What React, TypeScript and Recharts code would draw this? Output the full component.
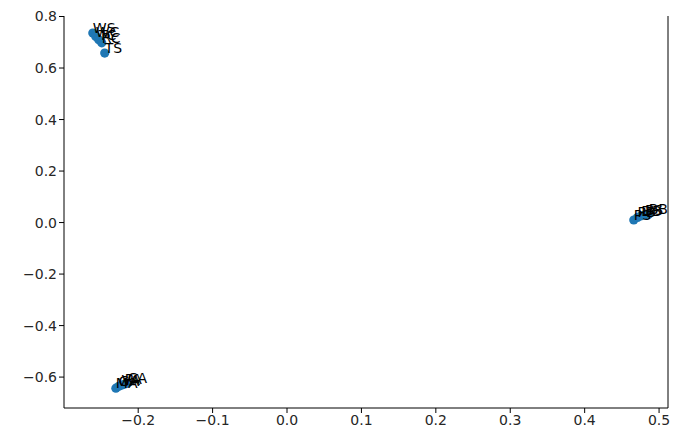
import { ScatterChart, Scatter, XAxis, YAxis } from "recharts";

// point labels and 2-D coordinates
const labels = [
  "WS", "WC", "TC", "RC", "TS",
  "MA", "GA", "VA", "PA", "CA",
  "PS", "PB", "DB", "BS", "BB",
];
const xs = [
  -0.261, -0.257, -0.253, -0.249, -0.245,
  -0.23, -0.226, -0.222, -0.218, -0.214,
  0.466, 0.471, 0.476, 0.481, 0.486,
];
const ys = [
  0.736, 0.722, 0.71, 0.698, 0.658,
  -0.643, -0.636, -0.631, -0.627, -0.623,
  0.01, 0.02, 0.026, 0.03, 0.032,
];

const xTicks = [-0.2, -0.1, 0.0, 0.1, 0.2, 0.3, 0.4, 0.5];
const yTicks = [-0.6, -0.4, -0.2, 0.0, 0.2, 0.4, 0.6, 0.8];
const X_DOMAIN: [number, number] = [-0.2997, 0.512];
const Y_DOMAIN: [number, number] = [-0.72, 0.802];

const data = labels.map((label, i) => ({ label, x: xs[i], y: ys[i] }));

const fmt = (v: number) => (v < 0 ? "\u2212" + Math.abs(v).toFixed(1) : v.toFixed(1));
const tick = { fontSize: 14, fill: "#262626", fontFamily: "DejaVu Sans" };

const Dot = (p: any) => <circle cx={p.cx} cy={p.cy} r={4.6} fill="#1f77b4" />;
const Tag = (p: any) => (
  <text x={p.cx} y={p.cy} fontSize={14} fontFamily="DejaVu Sans" fill="#000">
    {p.payload.label}
  </text>
);

export default function App() {
  return (
    <div style={{ position: "absolute", left: 0, top: 0, width: 673, height: 436 }}>
      <ScatterChart width={673} height={436} margin={{ top: 16, right: 0, bottom: 0, left: 0 }}>
        <XAxis
          type="number"
          dataKey="x"
          domain={X_DOMAIN}
          ticks={xTicks}
          tickFormatter={fmt}
          allowDataOverflow
          height={28}
          tick={tick}
          tickSize={5}
          stroke="#000"
          tickLine={{ stroke: "#000" }}
        />
        <XAxis
          xAxisId="top"
          orientation="top"
          type="number"
          dataKey="x"
          domain={X_DOMAIN}
          allowDataOverflow
          height={0}
          tick={false}
          tickLine={false}
          stroke="#000"
        />
        <YAxis
          type="number"
          dataKey="y"
          domain={Y_DOMAIN}
          ticks={yTicks}
          tickFormatter={fmt}
          allowDataOverflow
          width={64}
          tick={tick}
          tickSize={5}
          stroke="#000"
          tickLine={{ stroke: "#000" }}
        />
        <YAxis
          yAxisId="right"
          orientation="right"
          type="number"
          dataKey="y"
          domain={Y_DOMAIN}
          allowDataOverflow
          width={5}
          tick={false}
          tickLine={false}
          stroke="#000"
        />
        <Scatter data={data} shape={Dot} isAnimationActive={false} />
        <Scatter data={data} shape={Tag} isAnimationActive={false} />
      </ScatterChart>
    </div>
  );
}
